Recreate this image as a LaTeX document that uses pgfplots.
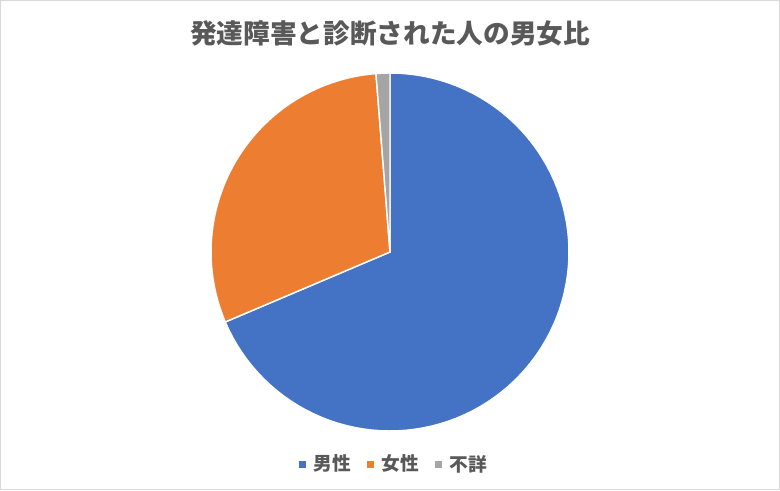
\documentclass[border=0pt]{standalone}
\usepackage{pgfplots}
\pgfplotsset{compat=1.18}
\usepackage{pgfplotstable}
\usepackage{fontspec}
\setmainfont{Noto Sans CJK JP}

\definecolor{cblue}{HTML}{4472C4}
\definecolor{corange}{HTML}{ED7D31}
\definecolor{cgray}{HTML}{A5A5A5}
\definecolor{ctext}{HTML}{595959}
\definecolor{cframe}{HTML}{D9D9D9}

% 発達障害と診断された人（千人）
\pgfplotstableread{
label value
男性 330
女性 145
不詳 6
}\piedata

\pgfplotstablegetelem{0}{value}\of\piedata \let\vm\pgfplotsretval
\pgfplotstablegetelem{1}{value}\of\piedata \let\vf\pgfplotsretval
\pgfplotstablegetelem{2}{value}\of\piedata \let\vu\pgfplotsretval
\pgfmathsetmacro\tot{\vm+\vf+\vu}
% clockwise from 12 o'clock
\pgfmathsetmacro\aA{90}
\pgfmathsetmacro\aB{90-360*(\vm/\tot)}
\pgfmathsetmacro\aC{\aB-360*(\vf/\tot)}
\pgfmathsetmacro\aD{-270}

\def\cx{390}
\def\cy{238}
\def\rr{179}

\begin{document}
\begin{tikzpicture}
\begin{axis}[
  width=585pt, height=367.5pt, scale only axis,
  xmin=0, xmax=780, ymin=0, ymax=490,
  hide axis, clip=false,
  legend columns=3,
  legend style={at={(axis cs:394.5,26)}, anchor=center, draw=none, fill=none,
    font=\fontsize{14}{16}\selectfont\bfseries, text=ctext,
    /tikz/every even column/.append style={column sep=10pt},
    /tikz/every odd column/.append style={column sep=4pt}},
]
\draw[cframe, line width=0.75pt] (axis cs:0.5,0.5) rectangle (axis cs:779.5,489.5);

\fill[cblue, draw=white, line width=1.1pt] (axis cs:\cx,\cy) -- plot[domain=\aB:\aA, samples=90, variable=\t] ({\cx+\rr*cos(\t)}, {\cy+\rr*sin(\t)}) -- cycle;
\fill[corange, draw=white, line width=1.1pt] (axis cs:\cx,\cy) -- plot[domain=\aC:\aB, samples=60, variable=\t] ({\cx+\rr*cos(\t)}, {\cy+\rr*sin(\t)}) -- cycle;
\fill[cgray, draw=white, line width=1.1pt] (axis cs:\cx,\cy) -- plot[domain=\aD:\aC, samples=8, variable=\t] ({\cx+\rr*cos(\t)}, {\cy+\rr*sin(\t)}) -- cycle;

\node[text=ctext, font=\fontsize{20}{24}\selectfont\bfseries] at (axis cs:390,457) {発達障害と診断された人の男女比};

\addlegendimage{legend image code/.code={\fill[cblue] (0pt,-2.2pt) rectangle (4.6pt,2.4pt);}}
\addlegendentry{男性}
\addlegendimage{legend image code/.code={\fill[corange] (0pt,-2.2pt) rectangle (4.6pt,2.4pt);}}
\addlegendentry{女性}
\addlegendimage{legend image code/.code={\fill[cgray] (0pt,-2.2pt) rectangle (4.6pt,2.4pt);}}
\addlegendentry{不詳}
\end{axis}
\end{tikzpicture}
\end{document}
